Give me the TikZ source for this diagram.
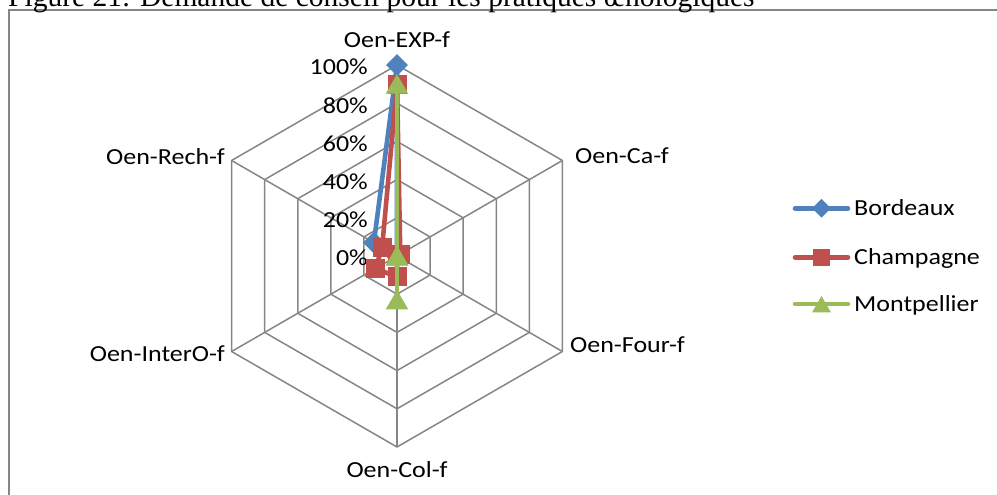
\documentclass[tikz,border=0pt]{standalone}
\usepackage{fontspec}
\setmainfont{Carlito}[FakeStretch=1.13]
\newfontfamily\titlefont{Liberation Serif}
\usetikzlibrary{shapes.geometric}

\definecolor{bordeaux}{HTML}{4F81BD}
\definecolor{champagne}{HTML}{C0504D}
\definecolor{montpellier}{HTML}{9BBB59}
\definecolor{gridgray}{HTML}{868686}

\tikzset{
  webline/.style={gridgray, line width=1.5pt},
  lbl/.style={font=\fontsize{23}{27}\selectfont, inner sep=0pt},
  series/.style={line width=4.6pt, line join=round, line cap=round},
  dmark/.style={diamond, fill=bordeaux, inner sep=0pt, minimum width=22pt, minimum height=22pt},
  smark/.style={rectangle, fill=champagne, inner sep=0pt, minimum size=19pt},
  tmark/.style={regular polygon, regular polygon sides=3, fill=montpellier, inner sep=0pt, minimum size=26pt, yshift=-3pt},
}

\begin{document}
\begin{tikzpicture}[x=1pt, y=1pt]
      \clip (0,0) rectangle (997,495);
      \draw[webline] (9,-20) rectangle (1020,485);
      \node[font={\titlefont\fontsize{29.5}{34}\selectfont}, inner sep=0pt, anchor=base west] (title) at (8,488)
        {Figure 21: Demande de conseil pour les pratiques œnologiques};

    \begin{scope}[shift={(397,239)}]
      \coordinate (o) at (0,0);
      \coordinate (exp) at (90:191);
      \coordinate (ca) at (30:191);
      \coordinate (four) at (-30:191);
      \coordinate (col) at (-90:191);
      \coordinate (inter) at (210:191);
      \coordinate (rech) at (150:191);

      % web
      \draw[webline] (exp) -- (ca) -- (four) -- (col) -- (inter) -- (rech) -- cycle;
      \draw[webline] (90:152.8) -- (30:152.8) -- (-30:152.8) -- (-90:152.8) -- (210:152.8) -- (150:152.8) -- cycle;
      \draw[webline] (90:114.6) -- (30:114.6) -- (-30:114.6) -- (-90:114.6) -- (210:114.6) -- (150:114.6) -- cycle;
      \draw[webline] (90:76.4) -- (30:76.4) -- (-30:76.4) -- (-90:76.4) -- (210:76.4) -- (150:76.4) -- cycle;
      \draw[webline] (90:38.2) -- (30:38.2) -- (-30:38.2) -- (-90:38.2) -- (210:38.2) -- (150:38.2) -- cycle;

      \draw[webline] (o) -- (exp);
      \draw[webline] (o) -- (ca);
      \draw[webline] (o) -- (four);
      \draw[webline] (o) -- (col);
      \draw[webline] (o) -- (inter);
      \draw[webline] (o) -- (rech);

      \node[lbl, anchor=base] (lexp) at (0,208.3) {Oen-EXP-f};
      \node[lbl, anchor=base west] (lca) at (178,92) {Oen-Ca-f};
      \node[lbl, anchor=base west] (lfour) at (173,-97) {Oen-Four-f};
      \node[lbl, anchor=base] (lcol) at (0,-222) {Oen-Col-f};
      \node[lbl, anchor=base east] (linter) at (-172,-105.7) {Oen-InterO-f};
      \node[lbl, anchor=base east] (lrech) at (-172,91) {Oen-Rech-f};

      \node[lbl, anchor=base east] (p0) at (-29,-10) {0\%};
      \node[lbl, anchor=base east] (p20) at (-29,28.2) {20\%};
      \node[lbl, anchor=base east] (p40) at (-29,66.4) {40\%};
      \node[lbl, anchor=base east] (p60) at (-29,104.6) {60\%};
      \node[lbl, anchor=base east] (p80) at (-29,142.8) {80\%};
      \node[lbl, anchor=base east] (p100) at (-29,181) {100\%};

      % Bordeaux
      \coordinate (b1) at (90:191);
      \coordinate (b2) at (30:0);
      \coordinate (b3) at (-30:0);
      \coordinate (b4) at (-90:0);
      \coordinate (b5) at (210:0);
      \coordinate (b6) at (150:26.7);
      \draw[series, bordeaux] (b1) -- (b2) -- (b3) -- (b4) -- (b5) -- (b6) -- cycle;
      \node[dmark] (bm1) at (b1) {};
      \node[dmark] (bm2) at (b2) {};
      \node[dmark] (bm3) at (b3) {};
      \node[dmark] (bm4) at (b4) {};
      \node[dmark] (bm5) at (b5) {};
      \node[dmark] (bm6) at (b6) {};

      % Champagne
      \coordinate (c1) at (90:171.9);
      \coordinate (c2) at (30:3.8);
      \coordinate (c3) at (-30:0);
      \coordinate (c4) at (-90:21);
      \coordinate (c5) at (210:24.8);
      \coordinate (c6) at (150:17.2);
      \draw[series, champagne] (c1) -- (c2) -- (c3) -- (c4) -- (c5) -- (c6) -- cycle;
      \node[smark] (cm1) at (c1) {};
      \node[smark] (cm2) at (c2) {};
      \node[smark] (cm3) at (c3) {};
      \node[smark] (cm4) at (c4) {};
      \node[smark] (cm5) at (c5) {};
      \node[smark] (cm6) at (c6) {};

      % Montpellier
      \coordinate (m1) at (90:171.9);
      \coordinate (m2) at (30:0);
      \coordinate (m3) at (-30:0);
      \coordinate (m4) at (-90:43.9);
      \coordinate (m5) at (210:0);
      \coordinate (m6) at (150:0);
      \draw[series, montpellier] (m1) -- (m2) -- (m3) -- (m4) -- (m5) -- (m6) -- cycle;
      \node[tmark] (mm1) at (m1) {};
      \node[tmark] (mm2) at (m2) {};
      \node[tmark] (mm3) at (m3) {};
      \node[tmark] (mm4) at (m4) {};
      \node[tmark] (mm5) at (m5) {};
      \node[tmark] (mm6) at (m6) {};
    \end{scope}

      % legend
      \coordinate (lb1) at (795,286.7);
      \coordinate (lb2) at (848,286.7);
      \coordinate (lc1) at (795,237.7);
      \coordinate (lc2) at (848,237.7);
      \coordinate (lm1) at (795,191);
      \coordinate (lm2) at (848,191);

      \draw[series, bordeaux] (lb1) -- (lb2);
      \draw[series, champagne] (lc1) -- (lc2);
      \draw[series, montpellier] (lm1) -- (lm2);

      \node[dmark, minimum width=19pt, minimum height=19pt] (lbm) at (821.5,286.7) {};
      \node[smark, minimum size=17pt] (lcm) at (821.5,237.7) {};
      \node[tmark, minimum size=22pt] (lmm) at (821.5,191) {};

      \node[lbl, anchor=base west] (lbt) at (854,279.3) {Bordeaux};
      \node[lbl, anchor=base west] (lct) at (854,230.3) {Champagne};
      \node[lbl, anchor=base west] (lmt) at (854,183.6) {Montpellier};

    \end{tikzpicture}
\end{document}
